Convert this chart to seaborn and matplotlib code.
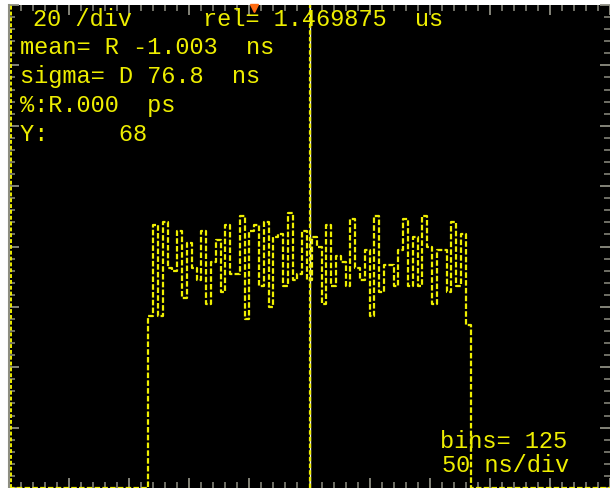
import numpy as np
import pandas as pd
import matplotlib
matplotlib.use("Agg")
import matplotlib.pyplot as plt
import seaborn as sns

# scope settings
ns_per_div = 50
counts_per_div = 20
n_bins = 125
bin_ns = 4
hist_start_ns = -134
cursor_ns = 0.0
trigger_ns = -46

# histogram counts of the non empty bins (left to right)
counts = [57, 87, 57, 88, 73, 72, 85, 63, 81, 73, 69, 85, 61, 75, 82, 65, 87,
          71, 71, 90, 56, 85, 87, 67, 88, 60, 83, 84, 67, 91, 69, 71, 85, 69,
          83, 80, 61, 87, 67, 77, 75, 67, 89, 73, 69, 79, 57, 90, 65, 74, 74,
          67, 79, 89, 67, 83, 67, 90, 80, 61, 79, 79, 65, 88, 67, 84, 54]

readout_top = ["20 /div", "rel= 1.469875  us"]
readout_left = ["mean= R -1.003  ns", "sigma= D 76.8  ns", "%:R.000  ps", "Y:     68"]
readout_right = ["bins= 125", "50 ns/div"]

yellow = "#eeee00"
grey = "#8e8e82"

# full 125 bin histogram over the 10 div screen
edges = np.arange(n_bins + 1) * bin_ns - n_bins * bin_ns / 2
centers = edges[:-1] + bin_ns / 2
weights = np.zeros(n_bins)
first = int(round((hist_start_ns - edges[0]) / bin_ns))
weights[first:first + len(counts)] = counts
df = pd.DataFrame({"t": centers, "n": weights})

sns.set_style("dark")
plt.rcParams["font.family"] = ["Liberation Mono", "DejaVu Sans Mono"]

W, H = 610, 489
fig = plt.figure(figsize=(W / 100, H / 100), dpi=100, facecolor="white")
px_div = 61
ax = fig.add_axes([9 / W, 0, (W - 9) / W, (H - 6) / H])
ax.set_facecolor("black")

sns.histplot(data=df, x="t", weights="n", bins=list(edges), element="step",
             fill=False, color=yellow, linewidth=1.6, linestyle=(0, (2.5, 1)), ax=ax)

ax.set_xlim((9 - 314) / px_div * ns_per_div, (W - 314) / px_div * ns_per_div)
ax.set_ylim((492 - H) / px_div * counts_per_div, (492 - 6) / px_div * counts_per_div)

# cursor and markers
ax.axvline(cursor_ns, color="#f2f2dc", lw=1.0)
ax.axvline(cursor_ns, color=yellow, lw=1.6, ls=(0, (2, 1)))
ax.axvline(edges[0] + 2, color=yellow, lw=1.4, ls=(0, (2, 1)))
ax.plot([trigger_ns], [ax.get_ylim()[1] - 0.5], marker="v", color="#ff6a10",
        markersize=6, clip_on=False)

# graticule ticks
ax.set_xticks(np.arange(-250, 251, ns_per_div))
ax.set_xticks(np.arange(-250, 251, ns_per_div / 5), minor=True)
ax.set_yticks(np.arange(0, 161, counts_per_div))
ax.set_yticks(np.arange(0, 161, counts_per_div / 5), minor=True)
ax.tick_params(which="both", direction="in", colors=grey, top=True, right=True,
               bottom=True, left=True, labelbottom=False, labelleft=False)
ax.tick_params(which="major", length=7, width=1.3)
ax.tick_params(which="minor", length=4, width=1.1)
ax.grid(False)
ax.set_xlabel("")
ax.set_ylabel("")
for side in ["top", "right", "bottom"]:
    ax.spines[side].set_visible(False)
ax.spines["left"].set_color(grey)
ax.spines["left"].set_linewidth(1.5)

# on-screen readouts
fs = 17
def put(txt, x, y):
    fig.text(x / W, 1 - y / H, txt, color=yellow, fontsize=fs, ha="left",
             va="center", fontweight="normal")

put(readout_top[0], 33, 19)
put(readout_top[1], 203, 19)
for i, line in enumerate(readout_left):
    put(line, 20, 48 + i * 28.8)
put(readout_right[0], 440, 442)
put(readout_right[1], 442, 466)

fig.savefig("out.png", dpi=100, facecolor="white")
